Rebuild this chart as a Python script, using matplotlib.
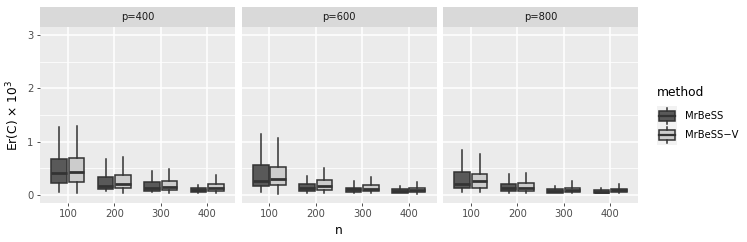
import matplotlib
matplotlib.use("Agg")
import matplotlib.pyplot as plt
from matplotlib.patches import Rectangle
from matplotlib.lines import Line2D
from matplotlib.legend_handler import HandlerBase
import numpy as np

# sample sizes (x categories) and facets
ns = [100, 200, 300, 400]
ps = [400, 600, 800]
methods = ["MrBeSS", "MrBeSS\u2212V"]

# box statistics, per facet p, per method
# order of lists follows ns
mrbess_lo = {400: [0.06, 0.07, 0.05, 0.04], 600: [0.06, 0.045, 0.04, 0.035], 800: [0.05, 0.03, 0.035, 0.03]}
mrbess_q1 = {400: [0.23, 0.12, 0.08, 0.055], 600: [0.16, 0.08, 0.06, 0.045], 800: [0.125, 0.075, 0.04, 0.03]}
mrbess_med = {400: [0.41, 0.17, 0.14, 0.09], 600: [0.26, 0.135, 0.105, 0.075], 800: [0.21, 0.13, 0.075, 0.06]}
mrbess_q3 = {400: [0.67, 0.34, 0.24, 0.125], 600: [0.56, 0.21, 0.14, 0.105], 800: [0.44, 0.20, 0.11, 0.09]}
mrbess_hi = {400: [1.28, 0.67, 0.45, 0.19], 600: [1.15, 0.36, 0.26, 0.17], 800: [0.85, 0.385, 0.17, 0.13]}

mrbessv_lo = {400: [0.04, 0.04, 0.04, 0.04], 600: [0.025, 0.04, 0.04, 0.02], 800: [0.05, 0.03, 0.035, 0.03]}
mrbessv_q1 = {400: [0.24, 0.14, 0.09, 0.07], 600: [0.18, 0.10, 0.075, 0.055], 800: [0.13, 0.08, 0.05, 0.05]}
mrbessv_med = {400: [0.43, 0.21, 0.155, 0.125], 600: [0.30, 0.17, 0.12, 0.10], 800: [0.26, 0.14, 0.10, 0.085]}
mrbessv_q3 = {400: [0.70, 0.37, 0.26, 0.20], 600: [0.53, 0.285, 0.18, 0.135], 800: [0.40, 0.22, 0.14, 0.12]}
mrbessv_hi = {400: [1.30, 0.71, 0.48, 0.37], 600: [1.06, 0.51, 0.33, 0.24], 800: [0.76, 0.41, 0.26, 0.20]}

fills = ["#595959", "#cccccc"]
edge = "#333333"
panel_bg = "#ebebeb"
strip_bg = "#d9d9d9"
txt_col = "#4d4d4d"

W, H = 747, 242
fig = plt.figure(figsize=(W / 100, H / 100), dpi=100)


def make_stats(lo, q1, med, q3, hi):
    return [dict(whislo=a, q1=b, med=c, q3=d, whishi=e, fliers=[])
            for a, b, c, d, e in zip(lo, q1, med, q3, hi)]


panel_x = [40, 241.5, 443]
panel_w = 195
top_px, bot_px, strip_top = 27, 203, 7

for i, p in enumerate(ps):
    ax = fig.add_axes([panel_x[i] / W, (H - bot_px) / H, panel_w / W, (bot_px - top_px) / H])
    ax.set_facecolor(panel_bg)
    for s in ax.spines.values():
        s.set_visible(False)
    pos = np.arange(1, len(ns) + 1)
    groups = [
        make_stats(mrbess_lo[p], mrbess_q1[p], mrbess_med[p], mrbess_q3[p], mrbess_hi[p]),
        make_stats(mrbessv_lo[p], mrbessv_q1[p], mrbessv_med[p], mrbessv_q3[p], mrbessv_hi[p]),
    ]
    for j, st in enumerate(groups):
        off = -0.1875 if j == 0 else 0.1875
        ax.bxp(st, positions=pos + off, widths=0.34, patch_artist=True,
               showfliers=False, showcaps=False,
               boxprops=dict(facecolor=fills[j], edgecolor=edge, linewidth=1.1),
               medianprops=dict(color=edge, linewidth=2.0),
               whiskerprops=dict(color=edge, linewidth=1.1),
               manage_ticks=False)
    ax.set_xlim(0.4, 4.6)
    ax.set_ylim(-0.15, 3.15)
    ax.set_xticks(pos)
    ax.set_xticklabels([str(n) for n in ns])
    ax.set_yticks([0, 1, 2, 3])
    ax.set_yticks([0.5, 1.5, 2.5], minor=True)
    ax.grid(which="major", color="white", linewidth=1.1)
    ax.grid(which="minor", axis="y", color="white", linewidth=0.55)
    ax.set_axisbelow(True)
    ax.tick_params(axis="both", which="major", length=2.5, width=0.6, color="#333333",
                   labelsize=7.2, labelcolor=txt_col, pad=2)
    ax.tick_params(which="minor", length=0)
    if i > 0:
        ax.tick_params(axis="y", length=0, labelleft=False)
    # strip
    sax = fig.add_axes([panel_x[i] / W, (H - top_px) / H, panel_w / W, (top_px - strip_top) / H])
    sax.set_facecolor(strip_bg)
    sax.set_xticks([])
    sax.set_yticks([])
    for s in sax.spines.values():
        s.set_visible(False)
    sax.text(0.5, 0.5, "p=%d" % p, ha="center", va="center", fontsize=7.2, color="#1a1a1a",
             transform=sax.transAxes)

fig.text(339 / W, 1 - 230 / H, "n", ha="center", va="center", fontsize=8.8, color="black")
fig.text(13 / W, 1 - 115 / H, "Er(C) \u00d7 10$^3$", ha="center", va="center", rotation=90,
         fontsize=8.8, color="black")


class BoxKey(HandlerBase):
    def __init__(self, fc):
        super().__init__()
        self.fc = fc

    def create_artists(self, legend, orig_handle, xdescent, ydescent, width, height, fontsize, trans):
        x0, y0 = -xdescent, -ydescent
        bg = Rectangle((x0, y0), width, height, facecolor="#f2f2f2",
                       edgecolor="none", transform=trans)
        cx = x0 + width / 2
        box = Rectangle((x0 + width * 0.1, y0 + height * 0.25), width * 0.8, height * 0.5,
                        facecolor=self.fc, edgecolor=edge, linewidth=1.1, transform=trans)
        med = Line2D([x0 + width * 0.1, x0 + width * 0.9],
                     [y0 + height * 0.5] * 2, color=edge, linewidth=1.6, transform=trans)
        w1 = Line2D([cx, cx], [y0 + height * 0.75, y0 + height * 0.92], color=edge,
                    linewidth=1.1, transform=trans)
        w2 = Line2D([cx, cx], [y0 + height * 0.08, y0 + height * 0.25], color=edge,
                    linewidth=1.1, transform=trans)
        return [bg, box, med, w1, w2]


fig.text(657 / W, 1 - 93 / H, "method", ha="left", va="center", fontsize=8.8, color="black")
h1 = Rectangle((0, 0), 1, 1)
h2 = Rectangle((0, 0), 1, 1)
leg = fig.legend([h1, h2], methods, loc="upper left", bbox_to_anchor=(657 / W, 1 - 106 / H),
                 frameon=False, fontsize=7.2,
                 handler_map={h1: BoxKey(fills[0]), h2: BoxKey(fills[1])},
                 handlelength=1.95, handleheight=2.6, handletextpad=0.8, labelspacing=0.0,
                 borderaxespad=0, borderpad=0.0)
for t in leg.get_texts():
    t.set_color("black")

fig.savefig("out.png", dpi=100)
